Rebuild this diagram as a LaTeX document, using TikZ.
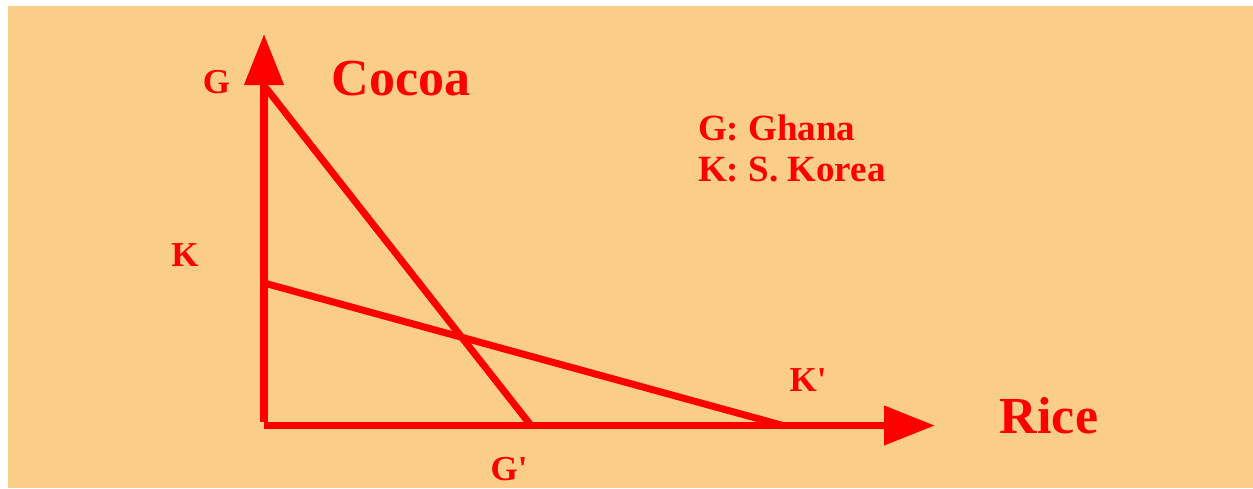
\documentclass[tikz,border=0pt]{standalone}
\usepackage{fontspec}
\setmainfont{Liberation Serif}[Ligatures=TeXOff]
\usetikzlibrary{arrows.meta}
\definecolor{bgorange}{RGB}{250,206,137}
\definecolor{pred}{RGB}{255,0,0}
\tikzset{
  axisline/.style={draw=pred, line width=7.5pt, line cap=butt,
    -{Triangle[width=38pt,length=51pt]}},
  ppf/.style={draw=pred, line width=7pt, line cap=butt},
  lbl/.style={text=pred, inner sep=0pt, font=\fontsize{35}{40}\selectfont\bfseries},
  big/.style={text=pred, inner sep=0pt, font=\fontsize{52}{60}\selectfont\bfseries},
  legend/.style={text=pred, inner sep=0pt, anchor=west, font=\fontsize{37}{42}\selectfont\bfseries}
}
\begin{document}
\begin{tikzpicture}[x=1pt,y=-1pt]
\useasboundingbox (0,0) rectangle (1253,488);
\fill[white] (0,0) rectangle (1253,488);
\fill[bgorange] (8,6) rectangle (1253,488);
% coordinates
\coordinate (O) at (264,425.5);
\coordinate (Ov) at (264,422);
\coordinate (Ytip) at (264,34);
\coordinate (Xtip) at (935,425.5);
\coordinate (Gtop) at (266,88);
\coordinate (Gbot) at (531,425.5);
\coordinate (Ktop) at (264,283);
\coordinate (Kbot) at (783,425.5);
% axes
\draw[axisline] (Ov) -- (Ytip);
\draw[axisline] (O) -- (Xtip);
% production possibility lines
\draw[ppf] (Gtop) -- (Gbot);
\draw[ppf] (Ktop) -- (Kbot);
% labels
\node[lbl] (lG) at (216.5,82) {G};
\node[lbl] (lK) at (185,255) {K};
\node[lbl] (lGp) at (509,469) {G'};
\node[lbl] (lKp) at (808,380) {K'};
\node[big] (cocoa) at (401,79) {Cocoa};
\node[big] (rice) at (1049,416) {Rice};
\node[legend] (ghana) at (698,127.5) {G: Ghana};
\node[legend] (korea) at (698,169.5) {K: S. Korea};
\end{tikzpicture}
\end{document}
